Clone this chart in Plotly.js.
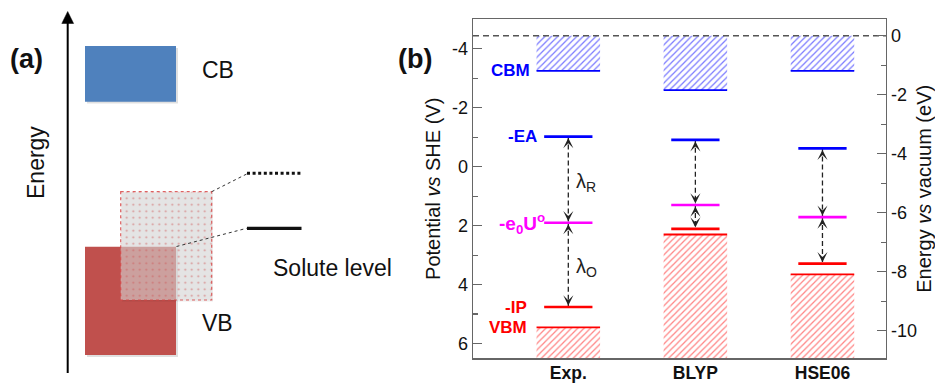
<!DOCTYPE html>
<html><head><meta charset="utf-8">
<script src="https://cdn.plot.ly/plotly-3.0.1.min.js"></script>
<style>html,body{margin:0;padding:0;background:#fff}#chart{width:935px;height:383px}</style>
</head><body><div id="chart"></div>
<script>
// ---------- data (panel b) : potentials vs SHE in V ----------
const methods = ['Exp.', 'BLYP', 'HSE06'];
const methodPos = [0, 1, 2];
const cbm    = [-3.25, -2.60, -3.25];
const negEA  = [-1.02, -0.91, -0.62];
const negE0U = [ 1.90,  1.30,  1.71];
const negIP  = [ 4.76,  2.11,  3.29];
const vbm    = [ 5.45,  2.30,  3.65];
const vacuumLevelSHE = -4.44;           // 0 eV vs vacuum on the SHE scale
const vacuumLevelEV = 0;
const potentialTickVals = [-4, -2, 0, 2, 4, 6];
const potentialTickText = ['-4', '-2', '0', '2', '4', '6'];
const potentialMinor = [-5, -3, -1, 1, 3, 5];
const vacuumTickVals = [0, -2, -4, -6, -8, -10];
const vacuumTickText = ['0', '-2', '-4', '-6', '-8', '-10'];
const vacuumMinor = [-1, -3, -5, -7, -9];

// ---------- layout constants ----------
const W = 935, H = 383;
const FONT = 'Liberation Sans, Arial, Helvetica, sans-serif';
const xRange = [-0.75, 2.5];
const potentialRange = [6.5, -5];
const vacuumRange = potentialRange.map(p => vacuumLevelSHE - p);
const bandHalf = 0.25, levelHalf = 0.19;
const BLUE = '#0000ff', RED = '#ff0000', MAG = '#ff00ff';

function segs(vals, half) {
  const x = [], y = [];
  vals.forEach((v, i) => { x.push(methodPos[i] - half, methodPos[i] + half, null); y.push(v, v, null); });
  return {x, y};
}
function vsegs(a, b) {
  const x = [], y = [];
  a.forEach((v, i) => { x.push(methodPos[i], methodPos[i], null); y.push(v, b[i], null); });
  return {x, y};
}

const traces = [];
// hatched conduction band (from vacuum level down to CBM)
traces.push({type: 'bar', x: methodPos, base: methodPos.map(() => vacuumLevelSHE),
  y: cbm.map(v => v - vacuumLevelSHE), width: 0.5,
  marker: {color: 'white', line: {width: 0}, pattern: {shape: '/', fgcolor: '#7b7bff', size: 4.5, solidity: 0.28}},
  hoverinfo: 'skip', showlegend: false});
// hatched valence band
traces.push({type: 'bar', x: methodPos, base: vbm,
  y: vbm.map(v => potentialRange[0] - v), width: 0.5,
  marker: {color: 'white', line: {width: 0}, pattern: {shape: '/', fgcolor: '#ff8585', size: 4.5, solidity: 0.28}},
  hoverinfo: 'skip', showlegend: false});
// band edges
const cbE = segs(cbm, bandHalf), vbE = segs(vbm, bandHalf);
traces.push({type: 'scatter', mode: 'lines', x: cbE.x, y: cbE.y, line: {color: BLUE, width: 1.8}, showlegend: false, hoverinfo: 'skip'});
traces.push({type: 'scatter', mode: 'lines', x: vbE.x, y: vbE.y, line: {color: RED, width: 1.8}, showlegend: false, hoverinfo: 'skip'});
// dashed arrow shafts
const a1 = vsegs(negEA, negE0U), a2 = vsegs(negE0U, negIP);
[a1, a2].forEach(a => traces.push({type: 'scatter', mode: 'lines', x: a.x, y: a.y,
  line: {color: '#222', width: 1.3, dash: '5px,3px'}, showlegend: false, hoverinfo: 'skip'}));
// levels
[[negEA, BLUE], [negE0U, MAG], [negIP, RED]].forEach(([vals, c]) => {
  const s = segs(vals, levelHalf);
  traces.push({type: 'scatter', mode: 'lines', x: s.x, y: s.y, line: {color: c, width: 2.6}, showlegend: false, hoverinfo: 'skip'});
});
// vacuum level (right axis)
traces.push({type: 'scatter', mode: 'lines', x: xRange, y: [vacuumLevelEV, vacuumLevelEV], yaxis: 'y2',
  line: {color: '#555', width: 1.5, dash: '6px,4px'}, showlegend: false, hoverinfo: 'skip'});

// ---------- panel (a) schematic (pixel-like units on hidden axes) ----------
const schematicOverlay = {x: 166.2, top: 191.7, bottom: 300, width: 91};
traces.push({type: 'bar', xaxis: 'x3', yaxis: 'y3', x: [schematicOverlay.x], base: [schematicOverlay.top],
  y: [schematicOverlay.bottom - schematicOverlay.top], width: [schematicOverlay.width],
  marker: {color: 'rgba(0,0,0,0)', line: {width: 0},
    pattern: {shape: '.', fgcolor: 'rgba(205,85,85,0.55)', bgcolor: 'rgba(0,0,0,0)', size: 6.5, solidity: 0.08}},
  hoverinfo: 'skip', showlegend: false});

const shapes = [
  {type: 'rect', xref: 'x3', yref: 'y3', x0: 87, x1: 178, y0: 48, y1: 103.5, fillcolor: 'rgba(0,0,0,0.12)', line: {width: 0}, layer: 'below'},
  {type: 'rect', xref: 'x3', yref: 'y3', x0: 85, x1: 176, y0: 46, y1: 101.7, fillcolor: '#4f81bd', line: {width: 0}, layer: 'below'},
  {type: 'rect', xref: 'x3', yref: 'y3', x0: 87, x1: 178, y0: 248.5, y1: 357, fillcolor: 'rgba(0,0,0,0.12)', line: {width: 0}, layer: 'below'},
  {type: 'rect', xref: 'x3', yref: 'y3', x0: 85, x1: 176, y0: 246.7, y1: 355, fillcolor: '#c0504d', line: {width: 0}, layer: 'below'},
  {type: 'rect', xref: 'x3', yref: 'y3', x0: 122, x1: 213, y0: 193, y1: 301.5, fillcolor: 'rgba(0,0,0,0.07)', line: {width: 0}, layer: 'below'},
  {type: 'rect', xref: 'x3', yref: 'y3', x0: 120.7, x1: 211.7, y0: 191.7, y1: 300, fillcolor: 'rgba(222,222,222,0.58)', line: {width: 0}, layer: 'below'},
  {type: 'rect', xref: 'x3', yref: 'y3', x0: 120.7, x1: 211.7, y0: 191.7, y1: 300, line: {color: 'rgba(215,70,70,0.85)', width: 1.2, dash: 'dot'}},
  {type: 'line', xref: 'x3', yref: 'y3', x0: 211.7, y0: 191.7, x1: 246.7, y1: 174, line: {color: '#333', width: 1, dash: 'dot'}},
  {type: 'line', xref: 'x3', yref: 'y3', x0: 176.5, y0: 246.5, x1: 246.7, y1: 228.3, line: {color: '#333', width: 1, dash: 'dot'}},
  {type: 'line', xref: 'x3', yref: 'y3', x0: 247, y0: 173.3, x1: 301.5, y1: 173.3, line: {color: '#111', width: 3, dash: '3px,2.6px'}},
  {type: 'line', xref: 'x3', yref: 'y3', x0: 247, y0: 228.3, x1: 301.5, y1: 228.3, line: {color: '#111', width: 3.2}},
  // energy axis with arrow head
  {type: 'line', xref: 'x3', yref: 'y3', x0: 67.7, y0: 373, x1: 67.7, y1: 20, line: {color: '#000', width: 2}},
  {type: 'path', xref: 'x3', yref: 'y3', path: 'M 61.8 23.5 L 67.7 11.5 L 73.6 23.5 Z', fillcolor: '#000', line: {color: '#000', width: 0.5}}
];

const annotations = [];
const aText = {family: FONT, size: 23, color: '#111'};
annotations.push({xref: 'x3', yref: 'y3', x: 36, y: 163, text: 'Energy', textangle: -90, showarrow: false, font: aText});
annotations.push({xref: 'x3', yref: 'y3', x: 200, y: 70, xanchor: 'left', text: 'CB', showarrow: false, font: aText});
annotations.push({xref: 'x3', yref: 'y3', x: 200, y: 323, xanchor: 'left', text: 'VB', showarrow: false, font: aText});
annotations.push({xref: 'x3', yref: 'y3', x: 271, y: 268, xanchor: 'left', text: 'Solute level', showarrow: false, font: aText});
annotations.push({xref: 'paper', yref: 'paper', x: 8 / W, y: 1 - 42 / H, xanchor: 'left', text: '<b>(a)</b>', showarrow: false, font: {family: FONT, size: 27, color: '#111'}});
annotations.push({xref: 'paper', yref: 'paper', x: 396 / W, y: 1 - 42 / H, xanchor: 'left', text: '<b>(b)</b>', showarrow: false, font: {family: FONT, size: 27, color: '#111'}});

// level labels for the experimental column
const lab = (text, y, color, xshift, size, yshift) => ({x: methodPos[0] - bandHalf, y: y, xanchor: 'right', xshift: xshift, yshift: yshift || 0,
  text: '<b>' + text + '</b>', showarrow: false, font: {family: FONT, size: size, color: color}});
annotations.push(lab('CBM', cbm[0], BLUE, -5, 17));
annotations.push(lab('-EA', negEA[0], BLUE, 2, 17));
annotations.push(lab('-e<sub>0</sub>U<sup>o</sup>', negE0U[0], MAG, 10, 19, -1));
annotations.push(lab('-IP', negIP[0], RED, -8, 17));
annotations.push(lab('VBM', vbm[0], RED, -8, 17));
// lambda labels
const lamFont = {family: FONT, size: 20, color: '#222'};
annotations.push({x: methodPos[0], y: (negEA[0] + negE0U[0]) / 2, xanchor: 'left', xshift: 6, yshift: -3, text: 'λ<sub>R</sub>', showarrow: false, font: lamFont});
annotations.push({x: methodPos[0], y: (negE0U[0] + negIP[0]) / 2, xanchor: 'left', xshift: 6, yshift: -3, text: 'λ<sub>O</sub>', showarrow: false, font: lamFont});
// arrow heads at both ends of each dashed shaft
const head = (i, y, dir) => ({x: methodPos[i], y: y, ax: 0, ay: dir * 7, showarrow: true, arrowhead: 3,
  arrowsize: 1.3, arrowwidth: 1.3, arrowcolor: '#222', standoff: 1.5, text: ''});
methodPos.forEach((p, i) => {
  annotations.push(head(i, negEA[i], 1));
  annotations.push(head(i, negE0U[i], -1));
  annotations.push(head(i, negE0U[i], 1));
  annotations.push(head(i, negIP[i], -1));
});

const axisLine = '#666';
const tickFont = {family: FONT, size: 18, color: '#111'};
const layout = {
  width: W, height: H, margin: {l: 0, r: 0, t: 0, b: 0},
  paper_bgcolor: '#fff', plot_bgcolor: 'rgba(0,0,0,0)',
  barmode: 'overlay', showlegend: false,
  font: {family: FONT, color: '#111'},
  xaxis: {domain: [473 / W, 886 / W], range: xRange, tickvals: methodPos, ticktext: methods,
    tickfont: {family: FONT, size: 17.5, color: '#111', weight: 'bold'}, ticks: '', showline: true, mirror: true,
    ticklabelstandoff: -2,
    linecolor: axisLine, linewidth: 1.3, showgrid: false, zeroline: false, fixedrange: true, anchor: 'y'},
  yaxis: {domain: [1 - 358.3 / H, 1 - 19.3 / H], range: potentialRange, tickmode: 'array',
    tickvals: potentialTickVals, ticktext: potentialTickText, ticks: 'inside', ticklen: 9, tickwidth: 1.2,
    tickcolor: axisLine, minor: {tickmode: 'array', tickvals: potentialMinor, ticks: 'inside', ticklen: 5, tickwidth: 1.2, tickcolor: axisLine, showgrid: false},
    tickfont: tickFont, showline: true, linecolor: axisLine, linewidth: 1.3, showgrid: false, zeroline: false,
    title: {text: 'Potential <i>vs</i> SHE (V)', font: {family: FONT, size: 20, color: '#111'}, standoff: 6}, anchor: 'x'},
  yaxis2: {overlaying: 'y', side: 'right', anchor: 'x', range: vacuumRange, tickmode: 'array',
    tickvals: vacuumTickVals, ticktext: vacuumTickText, ticks: 'inside', ticklen: 9, tickwidth: 1.2,
    tickcolor: axisLine, minor: {tickmode: 'array', tickvals: vacuumMinor, ticks: 'inside', ticklen: 5, tickwidth: 1.2, tickcolor: axisLine, showgrid: false},
    tickfont: tickFont, showline: true, linecolor: axisLine, linewidth: 1.3, showgrid: false, zeroline: false,
    title: {text: 'Energy <i>vs</i> vacuum (eV)', font: {family: FONT, size: 20, color: '#111'}, standoff: 6}},
  xaxis3: {domain: [0, 420 / W], range: [0, 420], visible: false, fixedrange: true, anchor: 'y3'},
  yaxis3: {domain: [0, 1], range: [H, 0], visible: false, fixedrange: true, anchor: 'x3'},
  shapes: shapes, annotations: annotations
};
Plotly.newPlot('chart', traces, layout, {staticPlot: true, displayModeBar: false});
</script></body></html>
